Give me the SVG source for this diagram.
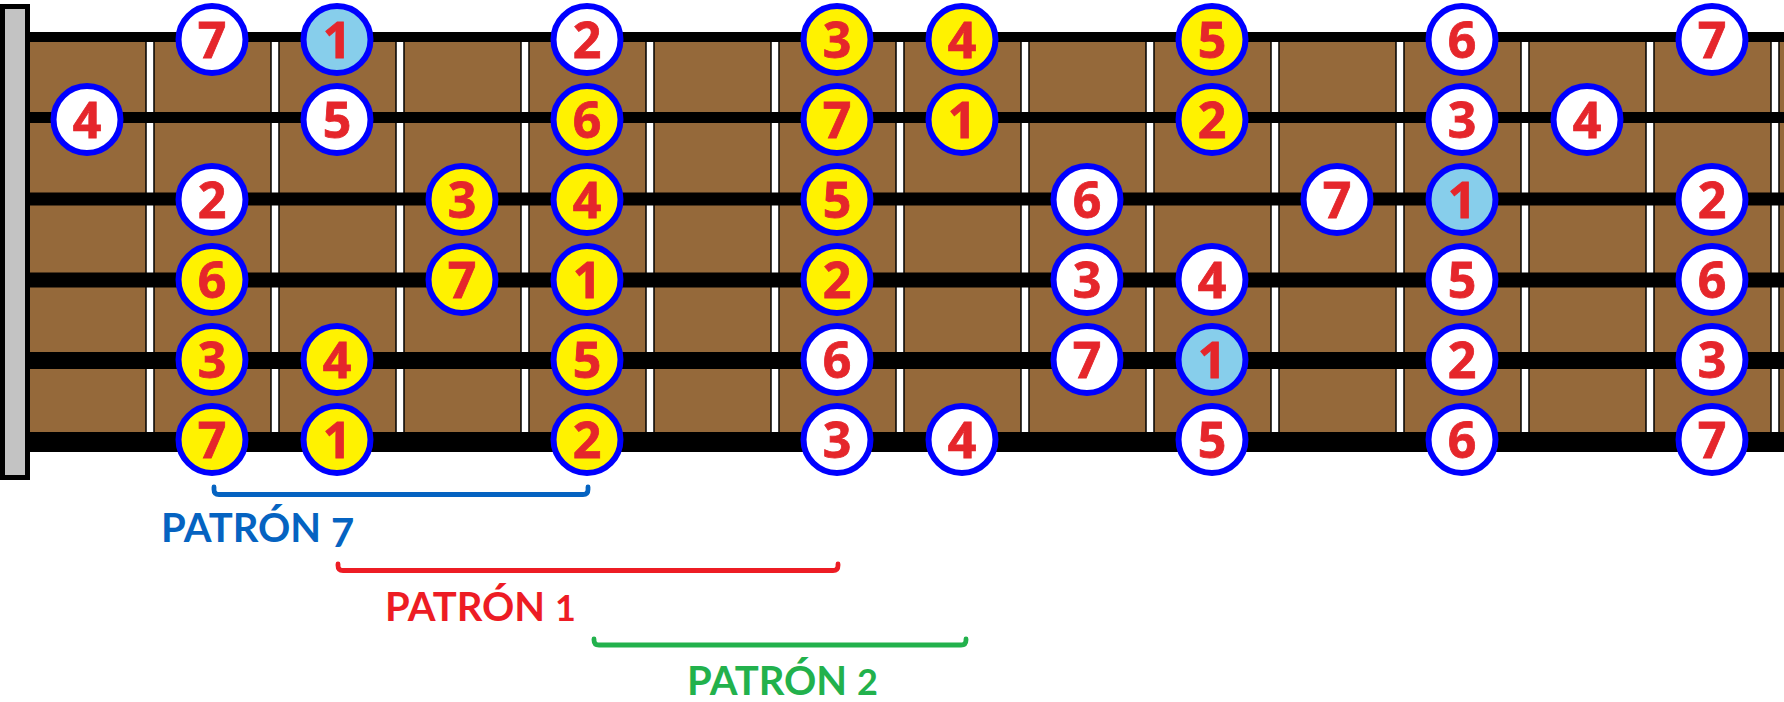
<svg xmlns="http://www.w3.org/2000/svg" width="1784" height="702" viewBox="0 0 1784 702">
<style>
.str{stroke:#000;fill:none}
.fret{fill:#fff;stroke:#000;stroke-width:1.5}
.n circle{stroke:#0000FF;stroke-width:6}
.w circle{fill:#fff}
.y circle{fill:#FFF200}
.b circle{fill:#87CEEB}
.n text{font-family:"Open Sans","Liberation Sans",sans-serif;font-weight:700;font-size:50px;fill:#E5262B;text-anchor:middle;stroke:#E5262B;stroke-width:0.8}
.lbl{font-family:Lato,"Open Sans",sans-serif;font-weight:700;font-size:40px}
.br{fill:none;stroke-width:4.8;stroke-linecap:round;stroke-linejoin:round}
</style>
<rect width="1784" height="702" fill="#fff"/>
<g id="fretboard">
<rect x="30" y="37" width="1754" height="405" fill="#95693A"/>
<rect class="fret" x="146" y="40" width="8" height="395"/>
<rect class="fret" x="271" y="40" width="8" height="395"/>
<rect class="fret" x="396" y="40" width="8" height="395"/>
<rect class="fret" x="521" y="40" width="8" height="395"/>
<rect class="fret" x="646" y="40" width="8" height="395"/>
<rect class="fret" x="771" y="40" width="8" height="395"/>
<rect class="fret" x="896" y="40" width="8" height="395"/>
<rect class="fret" x="1021" y="40" width="8" height="395"/>
<rect class="fret" x="1146" y="40" width="8" height="395"/>
<rect class="fret" x="1271" y="40" width="8" height="395"/>
<rect class="fret" x="1396" y="40" width="8" height="395"/>
<rect class="fret" x="1521" y="40" width="8" height="395"/>
<rect class="fret" x="1646" y="40" width="8" height="395"/>
<rect class="fret" x="1771" y="40" width="8" height="395"/>
<line class="str" x1="30" y1="37" x2="1784" y2="37" stroke-width="10"/>
<line class="str" x1="30" y1="117.5" x2="1784" y2="117.5" stroke-width="11"/>
<line class="str" x1="30" y1="199" x2="1784" y2="199" stroke-width="13"/>
<line class="str" x1="30" y1="280" x2="1784" y2="280" stroke-width="15"/>
<line class="str" x1="30" y1="360.5" x2="1784" y2="360.5" stroke-width="17"/>
<line class="str" x1="30" y1="442" x2="1784" y2="442" stroke-width="20"/>
</g>
<g id="nut"><rect x="2.5" y="6.5" width="25" height="471" fill="#C3C3C3" stroke="#000" stroke-width="5"/></g>
<g id="connectors">
<path class="br" stroke="#0563C1" d="M214,487 V489.5 Q214,494.5 219,494.5 H583 Q588,494.5 588,489.5 V487"/>
<path class="br" stroke="#ED1C24" d="M338,564 V565.5 Q338,570.5 343,570.5 H833 Q838,570.5 838,565.5 V564"/>
<path class="br" stroke="#22B14C" d="M594,639 V640 Q594,645 599,645 H961 Q966,645 966,640 V639"/>
</g>
<g id="labels">
<text class="lbl" x="161" y="542" fill="#0563C1">PATRÓN <tspan dy="5">7</tspan></text>
<text class="lbl" x="385" y="621" fill="#ED1C24">PATRÓN <tspan font-size="36">1</tspan></text>
<text class="lbl" x="687" y="695" fill="#22B14C">PATRÓN <tspan font-size="36">2</tspan></text>
</g>
<!-- string 1 -->
<g id="s1c1" class="n w"><circle cx="212" cy="39.5" r="33.5"/><text x="212" y="57.5">7</text></g>
<g id="s1c2" class="n b"><circle cx="337" cy="39.5" r="33.5"/><text x="337" y="57.5">1</text></g>
<g id="s1c4" class="n w"><circle cx="587" cy="39.5" r="33.5"/><text x="587" y="57.5">2</text></g>
<g id="s1c6" class="n y"><circle cx="837" cy="39.5" r="33.5"/><text x="837" y="57.5">3</text></g>
<g id="s1c7" class="n y"><circle cx="962" cy="39.5" r="33.5"/><text x="962" y="57.5">4</text></g>
<g id="s1c9" class="n y"><circle cx="1212" cy="39.5" r="33.5"/><text x="1212" y="57.5">5</text></g>
<g id="s1c11" class="n w"><circle cx="1462" cy="39.5" r="33.5"/><text x="1462" y="57.5">6</text></g>
<g id="s1c13" class="n w"><circle cx="1712" cy="39.5" r="33.5"/><text x="1712" y="57.5">7</text></g>
<!-- string 2 -->
<g id="s2c0" class="n w"><circle cx="87" cy="119.5" r="33.5"/><text x="87" y="137.5">4</text></g>
<g id="s2c2" class="n w"><circle cx="337" cy="119.5" r="33.5"/><text x="337" y="137.5">5</text></g>
<g id="s2c4" class="n y"><circle cx="587" cy="119.5" r="33.5"/><text x="587" y="137.5">6</text></g>
<g id="s2c6" class="n y"><circle cx="837" cy="119.5" r="33.5"/><text x="837" y="137.5">7</text></g>
<g id="s2c7" class="n y"><circle cx="962" cy="119.5" r="33.5"/><text x="962" y="137.5">1</text></g>
<g id="s2c9" class="n y"><circle cx="1212" cy="119.5" r="33.5"/><text x="1212" y="137.5">2</text></g>
<g id="s2c11" class="n w"><circle cx="1462" cy="119.5" r="33.5"/><text x="1462" y="137.5">3</text></g>
<g id="s2c12" class="n w"><circle cx="1587" cy="119.5" r="33.5"/><text x="1587" y="137.5">4</text></g>
<!-- string 3 -->
<g id="s3c1" class="n w"><circle cx="212" cy="199.5" r="33.5"/><text x="212" y="217.5">2</text></g>
<g id="s3c3" class="n y"><circle cx="462" cy="199.5" r="33.5"/><text x="462" y="217.5">3</text></g>
<g id="s3c4" class="n y"><circle cx="587" cy="199.5" r="33.5"/><text x="587" y="217.5">4</text></g>
<g id="s3c6" class="n y"><circle cx="837" cy="199.5" r="33.5"/><text x="837" y="217.5">5</text></g>
<g id="s3c8" class="n w"><circle cx="1087" cy="199.5" r="33.5"/><text x="1087" y="217.5">6</text></g>
<g id="s3c10" class="n w"><circle cx="1337" cy="199.5" r="33.5"/><text x="1337" y="217.5">7</text></g>
<g id="s3c11" class="n b"><circle cx="1462" cy="199.5" r="33.5"/><text x="1462" y="217.5">1</text></g>
<g id="s3c13" class="n w"><circle cx="1712" cy="199.5" r="33.5"/><text x="1712" y="217.5">2</text></g>
<!-- string 4 -->
<g id="s4c1" class="n y"><circle cx="212" cy="279.5" r="33.5"/><text x="212" y="297.5">6</text></g>
<g id="s4c3" class="n y"><circle cx="462" cy="279.5" r="33.5"/><text x="462" y="297.5">7</text></g>
<g id="s4c4" class="n y"><circle cx="587" cy="279.5" r="33.5"/><text x="587" y="297.5">1</text></g>
<g id="s4c6" class="n y"><circle cx="837" cy="279.5" r="33.5"/><text x="837" y="297.5">2</text></g>
<g id="s4c8" class="n w"><circle cx="1087" cy="279.5" r="33.5"/><text x="1087" y="297.5">3</text></g>
<g id="s4c9" class="n w"><circle cx="1212" cy="279.5" r="33.5"/><text x="1212" y="297.5">4</text></g>
<g id="s4c11" class="n w"><circle cx="1462" cy="279.5" r="33.5"/><text x="1462" y="297.5">5</text></g>
<g id="s4c13" class="n w"><circle cx="1712" cy="279.5" r="33.5"/><text x="1712" y="297.5">6</text></g>
<!-- string 5 -->
<g id="s5c1" class="n y"><circle cx="212" cy="359.5" r="33.5"/><text x="212" y="377.5">3</text></g>
<g id="s5c2" class="n y"><circle cx="337" cy="359.5" r="33.5"/><text x="337" y="377.5">4</text></g>
<g id="s5c4" class="n y"><circle cx="587" cy="359.5" r="33.5"/><text x="587" y="377.5">5</text></g>
<g id="s5c6" class="n w"><circle cx="837" cy="359.5" r="33.5"/><text x="837" y="377.5">6</text></g>
<g id="s5c8" class="n w"><circle cx="1087" cy="359.5" r="33.5"/><text x="1087" y="377.5">7</text></g>
<g id="s5c9" class="n b"><circle cx="1212" cy="359.5" r="33.5"/><text x="1212" y="377.5">1</text></g>
<g id="s5c11" class="n w"><circle cx="1462" cy="359.5" r="33.5"/><text x="1462" y="377.5">2</text></g>
<g id="s5c13" class="n w"><circle cx="1712" cy="359.5" r="33.5"/><text x="1712" y="377.5">3</text></g>
<!-- string 6 -->
<g id="s6c1" class="n y"><circle cx="212" cy="439.5" r="33.5"/><text x="212" y="457.5">7</text></g>
<g id="s6c2" class="n y"><circle cx="337" cy="439.5" r="33.5"/><text x="337" y="457.5">1</text></g>
<g id="s6c4" class="n y"><circle cx="587" cy="439.5" r="33.5"/><text x="587" y="457.5">2</text></g>
<g id="s6c6" class="n w"><circle cx="837" cy="439.5" r="33.5"/><text x="837" y="457.5">3</text></g>
<g id="s6c7" class="n w"><circle cx="962" cy="439.5" r="33.5"/><text x="962" y="457.5">4</text></g>
<g id="s6c9" class="n w"><circle cx="1212" cy="439.5" r="33.5"/><text x="1212" y="457.5">5</text></g>
<g id="s6c11" class="n w"><circle cx="1462" cy="439.5" r="33.5"/><text x="1462" y="457.5">6</text></g>
<g id="s6c13" class="n w"><circle cx="1712" cy="439.5" r="33.5"/><text x="1712" y="457.5">7</text></g>
</svg>
